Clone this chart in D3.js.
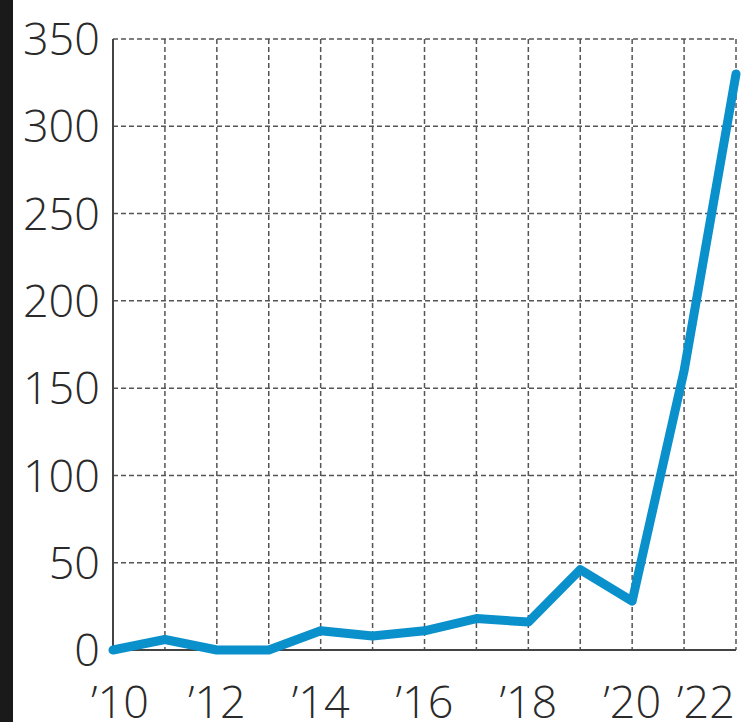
<!DOCTYPE html>
<html><head><meta charset="utf-8">
<script src="https://cdn.jsdelivr.net/npm/d3@7"></script>
<style>
html,body{margin:0;padding:0;background:#fff;}
svg{display:block;}
</style></head>
<body>
<svg id="chart" width="741" height="722"></svg>
<script>
const years = [2010,2011,2012,2013,2014,2015,2016,2017,2018,2019,2020,2021,2022];
const values = [0,6,0,0,11,8,11,18,16,46,28,160,330];
const yTicks = [0,50,100,150,200,250,300,350];
const xLabelYears = [2010,2012,2014,2016,2018,2020,2022];
const xLabels = ["\u201910","\u201912","\u201914","\u201916","\u201918","\u201920","\u201922"];

const W = 741, H = 722;
const svg = d3.select("#chart");
svg.append("rect").attr("x",0).attr("y",0).attr("width",13).attr("height",H).attr("fill","#1a1a1a");

const x = d3.scaleLinear().domain([2010,2022]).range([113,736]);
const y = d3.scaleLinear().domain([0,350]).range([650,39]);

const grid = "#555";
// horizontal grid
svg.append("g").selectAll("line").data(yTicks.filter(v=>v>0)).join("line")
  .attr("x1",x(2010)).attr("x2",x(2022)).attr("y1",d=>y(d)).attr("y2",d=>y(d))
  .attr("stroke",grid).attr("stroke-width",1.5).attr("stroke-dasharray","5,3");
// vertical grid
svg.append("g").selectAll("line").data(years.slice(1)).join("line")
  .attr("x1",d=>x(d)).attr("x2",d=>x(d)).attr("y1",y(350)).attr("y2",y(0))
  .attr("stroke",grid).attr("stroke-width",1.5).attr("stroke-dasharray","5,3");
// axes
svg.append("line").attr("x1",x(2010)).attr("x2",x(2010)).attr("y1",y(350)).attr("y2",y(0))
  .attr("stroke","#444").attr("stroke-width",2);
svg.append("line").attr("x1",x(2010)).attr("x2",x(2022)).attr("y1",y(0)).attr("y2",y(0))
  .attr("stroke","#444").attr("stroke-width",2);

const font = "'Open Sans', 'Noto Sans', sans-serif";
svg.append("g").selectAll("text").data(yTicks).join("text")
  .attr("x",100).attr("y",d=>Math.max(y(d),30)).attr("dy","0.36em")
  .attr("text-anchor","end").attr("font-family",font).attr("font-weight",300)
  .attr("font-size",45).attr("fill","#2a2a2a").text(d=>d);

svg.append("g").selectAll("text").data(xLabelYears).join("text")
  .attr("x",(d,i)=> i===xLabelYears.length-1 ? W-6 : x(d)+ (i===0?7:0))
  .attr("y",718)
  .attr("text-anchor",(d,i)=> i===xLabelYears.length-1 ? "end" : "middle")
  .attr("font-family",font).attr("font-weight",300)
  .attr("font-size",45).attr("fill","#2a2a2a").text((d,i)=>xLabels[i]);

const line = d3.line().x((d,i)=>x(years[i])).y(d=>y(d));
svg.append("path").datum(values).attr("d",line)
  .attr("fill","none").attr("stroke","#0a90cb").attr("stroke-width",9)
  .attr("stroke-linejoin","round").attr("stroke-linecap","round");
</script>
</body></html>
